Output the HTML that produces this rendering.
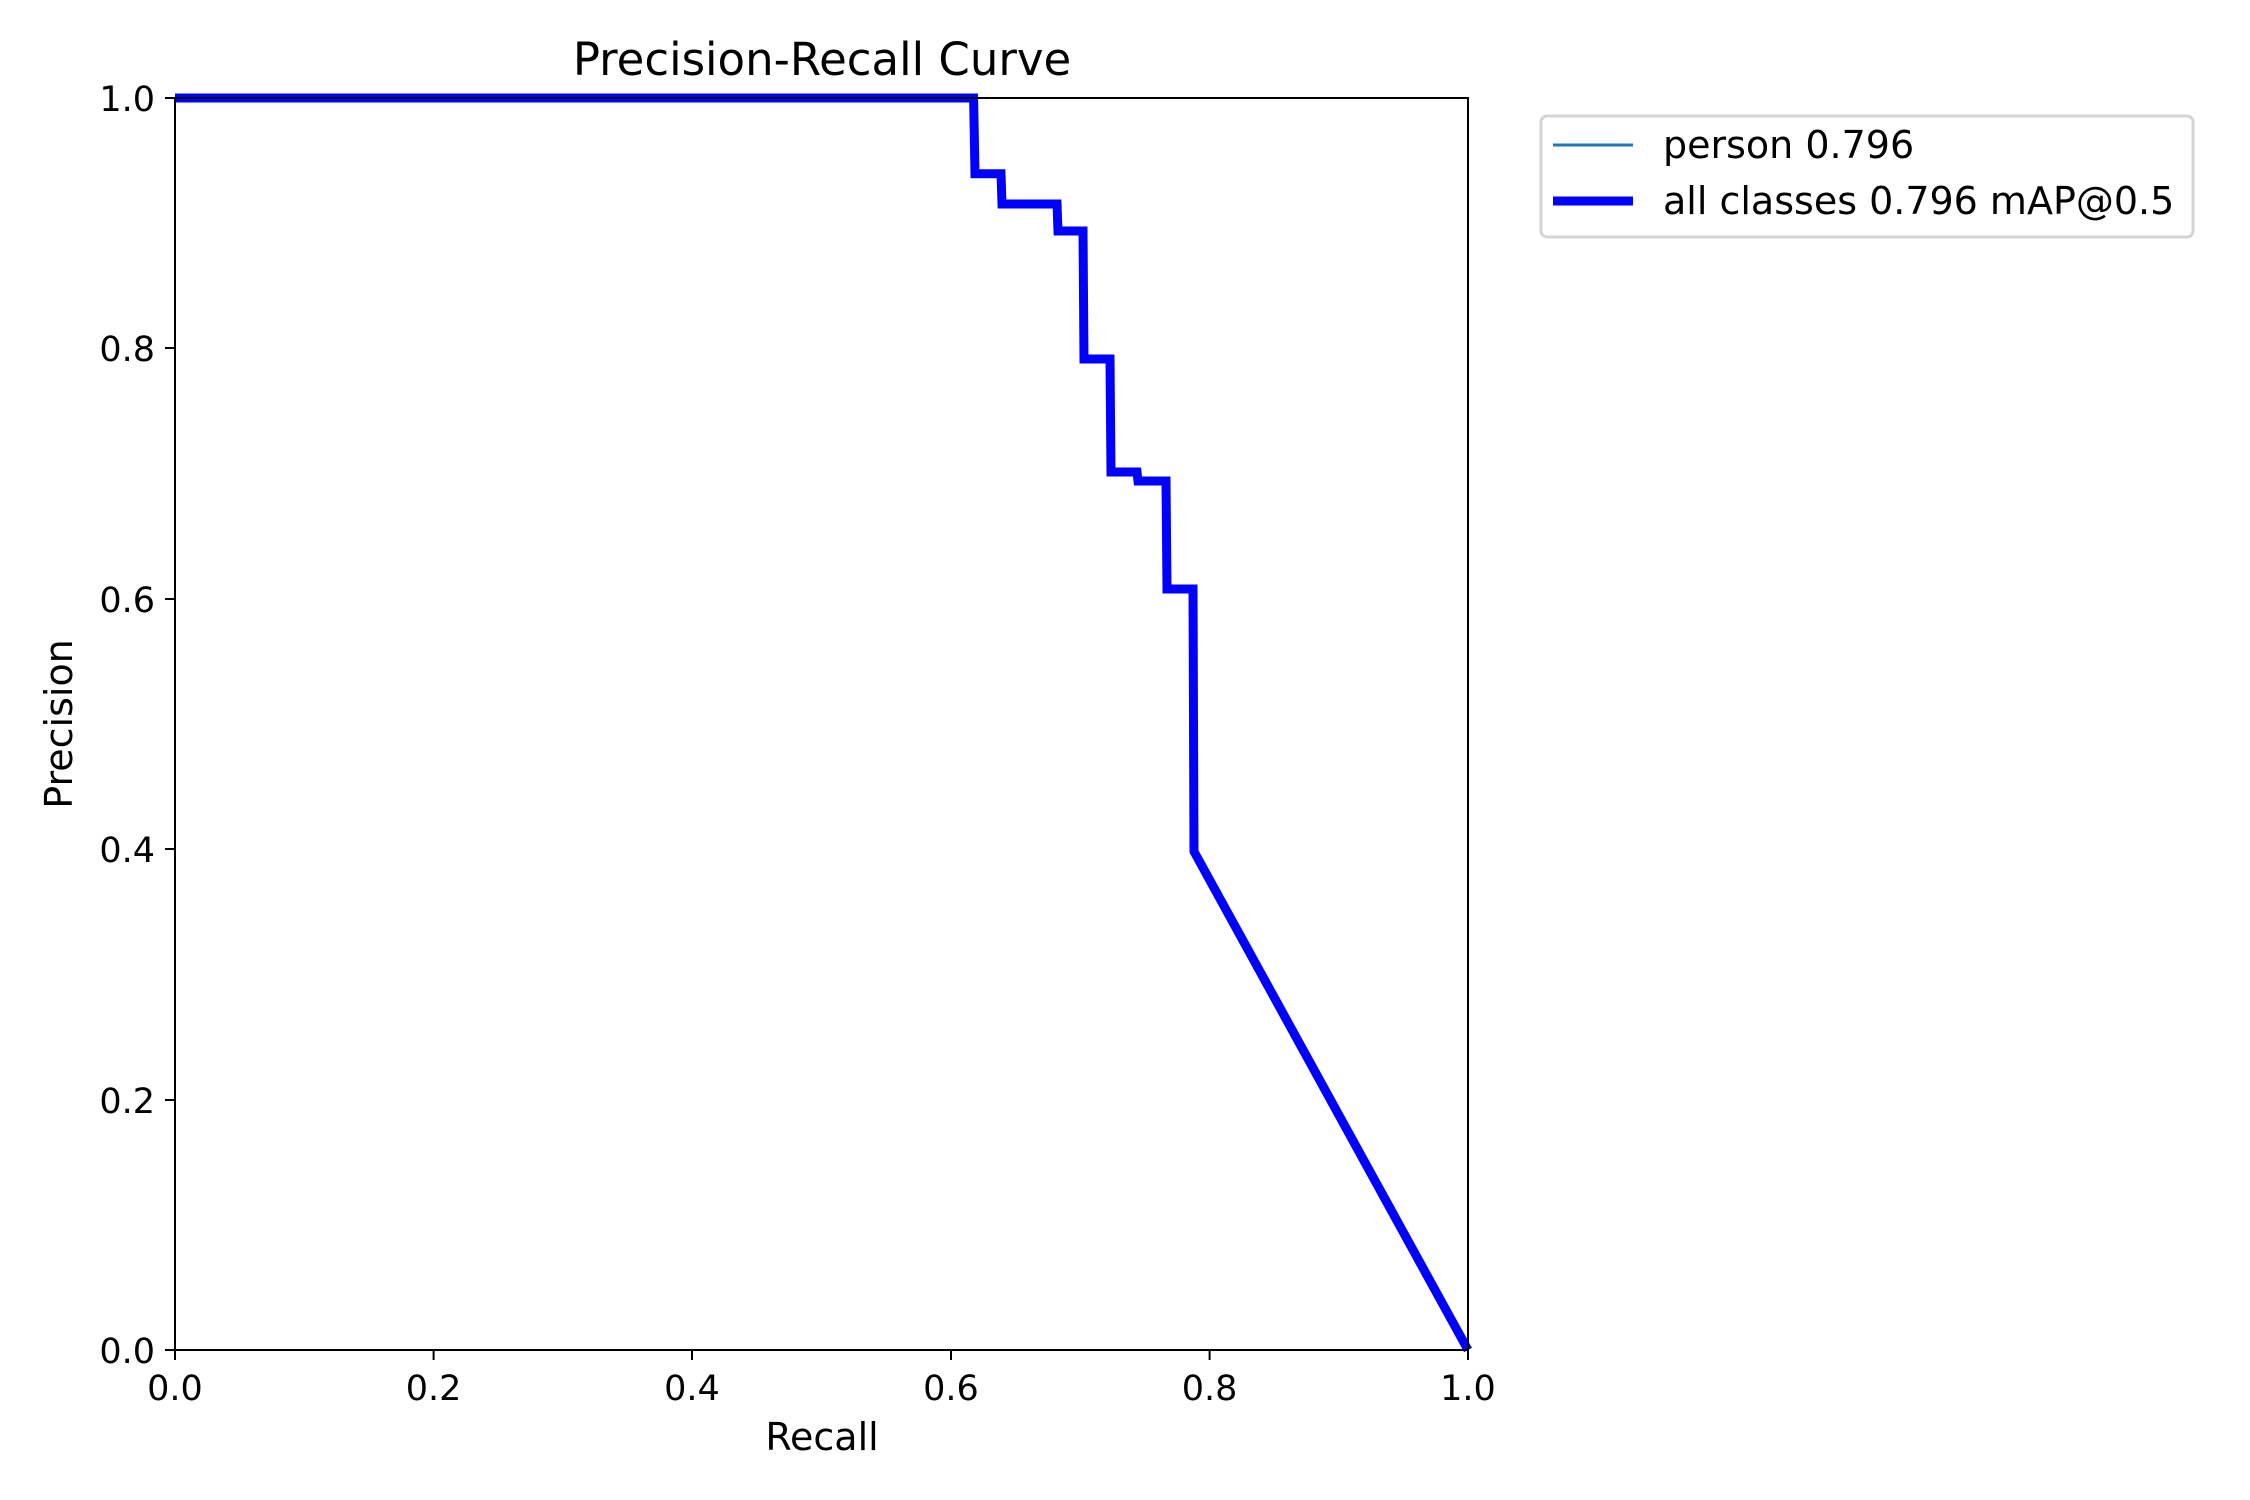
<!DOCTYPE html>
<html><head><meta charset="utf-8"><style>
html,body{margin:0;padding:0;background:#fff;}
svg{display:block;}
text{font-family:"DejaVu Sans","Liberation Sans",sans-serif;fill:#000;}
</style></head><body>
<svg width="2250" height="1500" viewBox="0 0 2250 1500" xmlns="http://www.w3.org/2000/svg">
<rect width="2250" height="1500" fill="#fff"/>
<text x="822" y="75" font-size="45" text-anchor="middle">Precision-Recall Curve</text>
<polyline fill="none" stroke="#1f77b4" stroke-width="3" points="175,98 973.6,98 973.6,173.8 1001,173.8 1001,204 1057,204 1057,231 1083,231 1083,359 1110,359 1110,472 1137,472 1137,481 1166,481 1166,589 1193,589 1193,851.5 1468,1350"/>
<polyline fill="none" stroke="#0000ff" stroke-width="9" stroke-linejoin="miter" points="175,98 973.6,98 975,173.8 1001,173.8 1002,204 1057,204 1058,231 1083,231 1084,359 1110,359 1111,472 1137,472 1138,481 1166,481 1167,589 1193,589 1194,851.5 1468,1350"/>
<rect x="175" y="98" width="1293" height="1252" fill="none" stroke="#000" stroke-width="2"/>
<g stroke="#000" stroke-width="2">
<line x1="175" y1="1350" x2="175" y2="1360"/><line x1="433.6" y1="1350" x2="433.6" y2="1360"/><line x1="692" y1="1350" x2="692" y2="1360"/><line x1="951" y1="1350" x2="951" y2="1360"/><line x1="1209.6" y1="1350" x2="1209.6" y2="1360"/><line x1="1468" y1="1350" x2="1468" y2="1360"/>
<line x1="165" y1="98" x2="175" y2="98"/><line x1="165" y1="348" x2="175" y2="348"/><line x1="165" y1="599" x2="175" y2="599"/><line x1="165" y1="849" x2="175" y2="849"/><line x1="165" y1="1100" x2="175" y2="1100"/><line x1="165" y1="1350" x2="175" y2="1350"/>
</g>
<g font-size="35" text-anchor="middle">
<text x="175" y="1400">0.0</text><text x="433.6" y="1400">0.2</text><text x="692" y="1400">0.4</text><text x="951" y="1400">0.6</text><text x="1209.6" y="1400">0.8</text><text x="1468" y="1400">1.0</text>
</g>
<g font-size="35" text-anchor="end">
<text x="155" y="111">1.0</text><text x="155" y="361">0.8</text><text x="155" y="612">0.6</text><text x="155" y="862">0.4</text><text x="155" y="1113">0.2</text><text x="155" y="1363">0.0</text>
</g>
<text x="822" y="1450" font-size="38" text-anchor="middle">Recall</text>
<text transform="translate(72,724) rotate(-90)" font-size="38" text-anchor="middle">Precision</text>
<rect x="1541" y="116" width="652" height="121" rx="6" fill="#fff" stroke="#d4d4d4" stroke-width="3"/>
<line x1="1553" y1="145" x2="1633" y2="145" stroke="#1f77b4" stroke-width="3"/>
<line x1="1553" y1="201" x2="1633" y2="201" stroke="#0000ff" stroke-width="9"/>
<text x="1663" y="158" font-size="38">person 0.796</text>
<text x="1663" y="214" font-size="38">all classes 0.796 mAP@0.5</text>
</svg>
</body></html>
